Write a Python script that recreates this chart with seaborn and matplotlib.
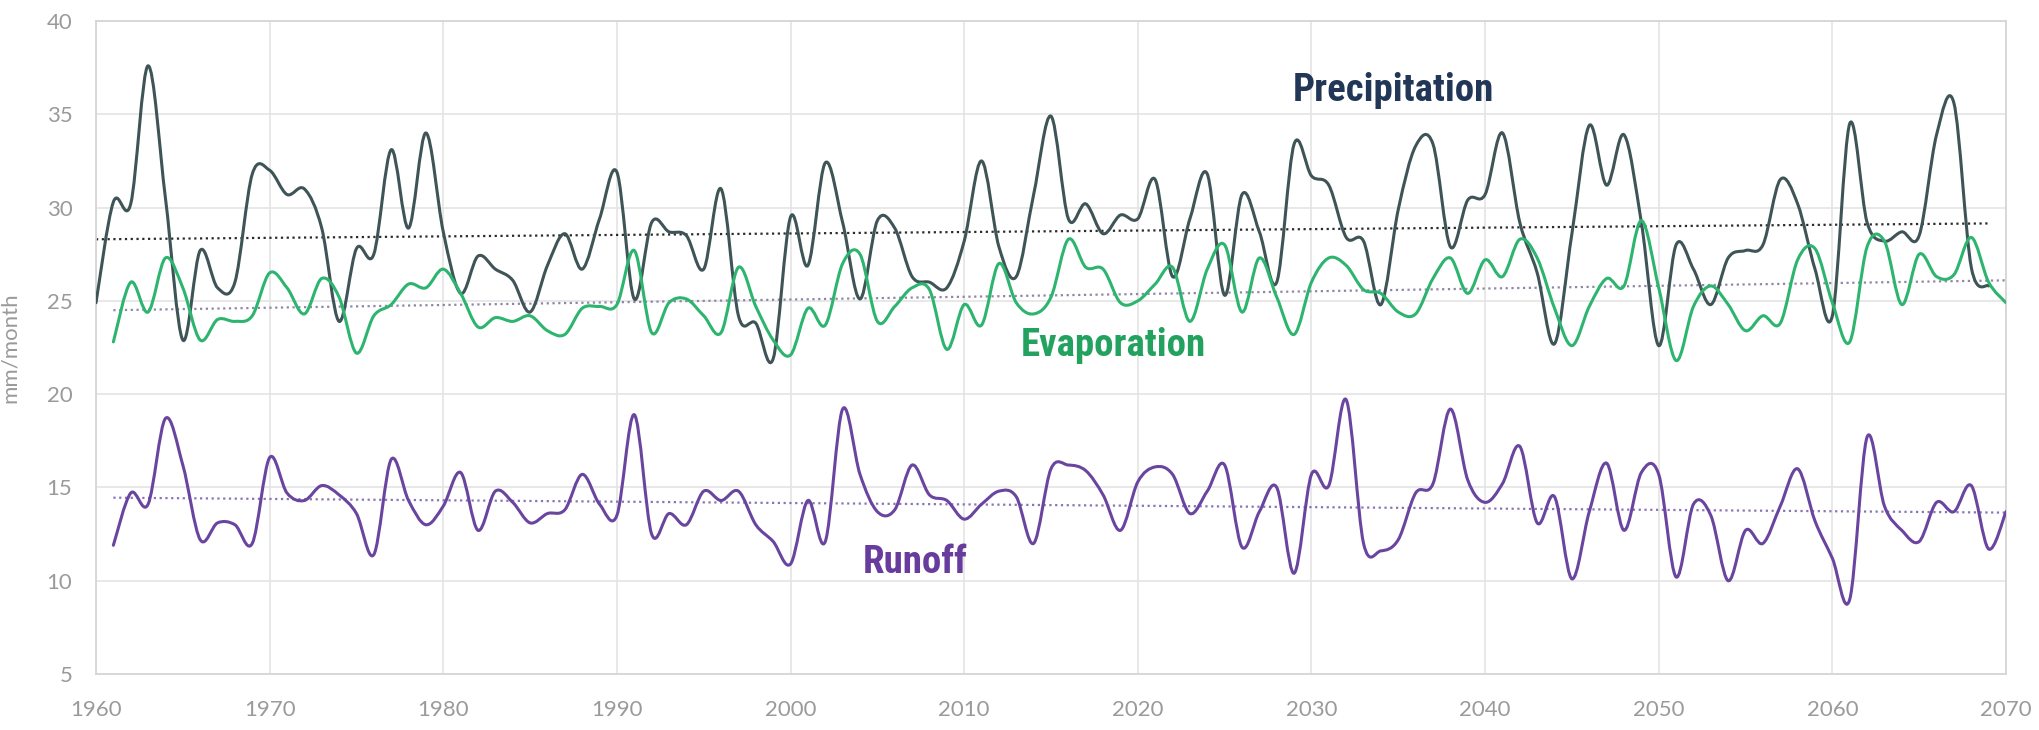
import numpy as np
import pandas as pd
import matplotlib
matplotlib.use("Agg")
import matplotlib.pyplot as plt
import seaborn as sns
from matplotlib.path import Path
from matplotlib.patches import PathPatch
from matplotlib import font_manager as fm

# ---------------- data (annual values) ----------------
precip_years = list(range(1960, 2070))
precip = [24.9, 30.3, 30.2, 37.6, 30.5, 22.9, 27.7, 25.7, 26.0, 31.8,
          32.0, 30.7, 31.0, 28.9, 23.9, 27.8, 27.5, 33.1, 28.9, 34.0,
          28.7, 25.4, 27.4, 26.7, 26.1, 24.4, 26.9, 28.6, 26.7, 29.4,
          31.9, 25.1, 29.2, 28.7, 28.5, 26.7, 31.0, 24.2, 23.8, 21.9,
          29.5, 26.9, 32.4, 29.2, 25.1, 29.3, 28.9, 26.3, 26.0, 25.7,
          28.2, 32.5, 27.9, 26.3, 30.7, 34.9, 29.4, 30.2, 28.6, 29.6,
          29.4, 31.5, 26.3, 29.4, 31.8, 25.3, 30.7, 28.7, 26.0, 33.4,
          31.7, 31.2, 28.4, 28.2, 24.8, 29.9, 33.3, 33.4, 27.9, 30.4,
          30.7, 34.0, 29.2, 26.5, 22.7, 28.6, 34.4, 31.2, 33.9, 29.2,
          22.6, 28.0, 26.7, 24.8, 27.3, 27.7, 28.0, 31.5, 30.2, 26.7,
          24.2, 34.5, 29.2, 28.2, 28.7, 28.5, 33.9, 35.6, 26.8, 25.8]

other_years = list(range(1961, 2071))
evap = [22.8, 26.0, 24.4, 27.3, 25.7, 22.9, 24.0, 23.9, 24.2, 26.5,
        25.7, 24.3, 26.2, 25.2, 22.2, 24.2, 24.8, 25.9, 25.7, 26.7,
        25.4, 23.6, 24.1, 23.9, 24.2, 23.4, 23.2, 24.6, 24.7, 24.8,
        27.7, 23.3, 24.9, 25.1, 24.2, 23.3, 26.8, 24.7, 22.9, 22.1,
        24.6, 23.7, 27.0, 27.5, 23.9, 24.7, 25.7, 25.6, 22.4, 24.8,
        23.7, 27.0, 24.9, 24.3, 25.2, 28.3, 26.8, 26.7, 24.9, 25.0,
        25.9, 26.8, 23.9, 26.7, 28.0, 24.4, 27.3, 25.2, 23.2, 26.0,
        27.3, 26.9, 25.6, 25.4, 24.4, 24.3, 26.2, 27.3, 25.4, 27.2,
        26.3, 28.3, 27.3, 24.6, 22.6, 24.7, 26.2, 25.8, 29.3, 25.7,
        21.8, 24.7, 25.8, 24.8, 23.4, 24.2, 23.8, 27.2, 27.8, 24.9,
        22.8, 27.9, 28.2, 24.8, 27.5, 26.3, 26.4, 28.4, 26.0, 24.9]

runoff = [11.9, 14.7, 14.1, 18.7, 16.2, 12.2, 13.1, 13.0, 12.0, 16.6,
          14.7, 14.3, 15.1, 14.6, 13.6, 11.4, 16.5, 14.3, 13.0, 14.0,
          15.8, 12.7, 14.8, 14.2, 13.1, 13.6, 13.8, 15.7, 14.1, 13.5,
          18.9, 12.5, 13.6, 13.0, 14.8, 14.3, 14.8, 13.0, 12.1, 10.9,
          14.3, 12.1, 19.2, 15.7, 13.7, 13.8, 16.2, 14.6, 14.3, 13.3,
          14.1, 14.8, 14.5, 12.0, 16.0, 16.2, 15.9, 14.6, 12.7, 15.3,
          16.1, 15.7, 13.6, 14.8, 16.2, 11.8, 13.7, 15.0, 10.4, 15.7,
          15.1, 19.7, 12.0, 11.6, 12.2, 14.7, 15.2, 19.2, 15.4, 14.2,
          15.2, 17.2, 13.1, 14.5, 10.1, 13.7, 16.3, 12.7, 15.8, 15.7,
          10.2, 14.1, 13.5, 10.0, 12.7, 12.0, 14.0, 16.0, 13.2, 11.2,
          9.0, 17.7, 14.0, 12.7, 12.1, 14.2, 13.7, 15.1, 11.7, 13.7]

# dotted trend lines (end values)
trend_precip_years = [1960, 2069]
trend_precip = [28.3, 29.15]
trend_other_years = [1961, 2070]
trend_evap = [24.5, 26.1]
trend_runoff = [14.45, 13.65]

x_ticks = list(range(1960, 2071, 10))
y_ticks = list(range(5, 41, 5))
series_labels = ["Precipitation", "Evaporation", "Runoff"]
label_pos_x = [2034.7, 2018.6, 2007.2]
label_pos_y = [36.3, 22.6, 11.0]
y_label = "mm/month"

# ---------------- styling ----------------
sns.set_theme(style="whitegrid")
names = {f.name for f in fm.fontManager.ttflist}
light_family = "Lato" if "Lato" in names else "DejaVu Sans"
plt.rcParams["font.family"] = [light_family, "DejaVu Sans"]

cond_family, cond_stretch = "DejaVu Sans", "condensed"
for cand in ["Roboto Condensed", "Liberation Sans Narrow", "Open Sans Condensed"]:
    if cand in names:
        cond_family, cond_stretch = cand, "normal"
        break

c_precip = "#3e5457"
c_evap = "#2db56f"
c_runoff = "#6a45a0"
c_precip_lbl = "#223658"
c_evap_lbl = "#22a25e"
c_runoff_lbl = "#673c9c"
c_tick = "#9a9a9a"

fig = plt.figure(figsize=(20.4, 7.3), dpi=100)
ax = fig.add_axes([96 / 2040, 56 / 730, 1910 / 2040, 653 / 730])
ax.set_facecolor("white")


def spline_path(xs, ys):
    xs = np.asarray(xs, float)
    ys = np.asarray(ys, float)
    n = len(xs)
    verts = [(xs[0], ys[0])]
    codes = [Path.MOVETO]
    for i in range(n - 1):
        p0 = i - 1 if i > 0 else i
        p3 = i + 2 if i + 2 < n else i + 1
        c1 = (xs[i] + (xs[i + 1] - xs[p0]) / 6, ys[i] + (ys[i + 1] - ys[p0]) / 6)
        c2 = (xs[i + 1] - (xs[p3] - xs[i]) / 6, ys[i + 1] - (ys[p3] - ys[i]) / 6)
        verts += [c1, c2, (xs[i + 1], ys[i + 1])]
        codes += [Path.CURVE4] * 3
    return Path(verts, codes)


# trend lines via seaborn
trend_df = pd.concat([
    pd.DataFrame({"year": trend_precip_years, "value": trend_precip, "s": "p"}),
    pd.DataFrame({"year": trend_other_years, "value": trend_evap, "s": "e"}),
    pd.DataFrame({"year": trend_other_years, "value": trend_runoff, "s": "r"}),
])
trend_colors = {"p": "#2a2a2a", "e": "#8f86a6", "r": "#8a74b3"}
for key, grp in trend_df.groupby("s"):
    sns.lineplot(data=grp, x="year", y="value", ax=ax, color=trend_colors[key],
                 lw=1.6, linestyle=(0, (1, 1.6)), zorder=2, legend=False)

# main series (smooth curves through the annual points)
for xs, ys, col, z in [(other_years, evap, c_evap, 4),
                       (other_years, runoff, c_runoff, 4),
                       (precip_years, precip, c_precip, 3)]:
    ax.add_patch(PathPatch(spline_path(xs, ys), fill=False, edgecolor=col,
                           lw=2.2, capstyle="round", joinstyle="round", zorder=z))

ax.set_xlim(1960, 2070)
ax.set_ylim(5, 40)
ax.set_xticks(x_ticks)
ax.set_yticks(y_ticks)
ax.set_xticklabels([str(t) for t in x_ticks])
ax.set_yticklabels([str(t) for t in y_ticks])
ax.grid(True, color="#e4e4e4", lw=1.2)
for sp in ax.spines.values():
    sp.set_visible(True)
    sp.set_color("#d6d6d6")
    sp.set_linewidth(1.3)
ax.tick_params(axis="both", length=0, labelcolor=c_tick, labelsize=16)
ax.tick_params(axis="x", pad=19)
ax.tick_params(axis="y", pad=17)

ax.set_xlabel("")
ax.set_ylabel(y_label, color=c_tick, fontsize=16)
ax.yaxis.set_label_coords(-76 / 1910, 0.5)

# series labels
texts = []
for lbl, xx, yy, col in zip(series_labels, label_pos_x, label_pos_y,
                            [c_precip_lbl, c_evap_lbl, c_runoff_lbl]):
    t = ax.text(xx, yy, lbl, color=col, fontsize=24, fontweight="bold",
                family=cond_family, stretch=cond_stretch,
                ha="center", va="center", zorder=6)
    texts.append(t)

# scale label font so "Precipitation" is ~201 px wide as in the reference
fig.canvas.draw()
renderer = fig.canvas.get_renderer()
w = texts[0].get_window_extent(renderer).width
scale = 201.0 / w
for t in texts:
    t.set_fontsize(24 * scale)

fig.savefig("out.png", dpi=100, facecolor="white")
